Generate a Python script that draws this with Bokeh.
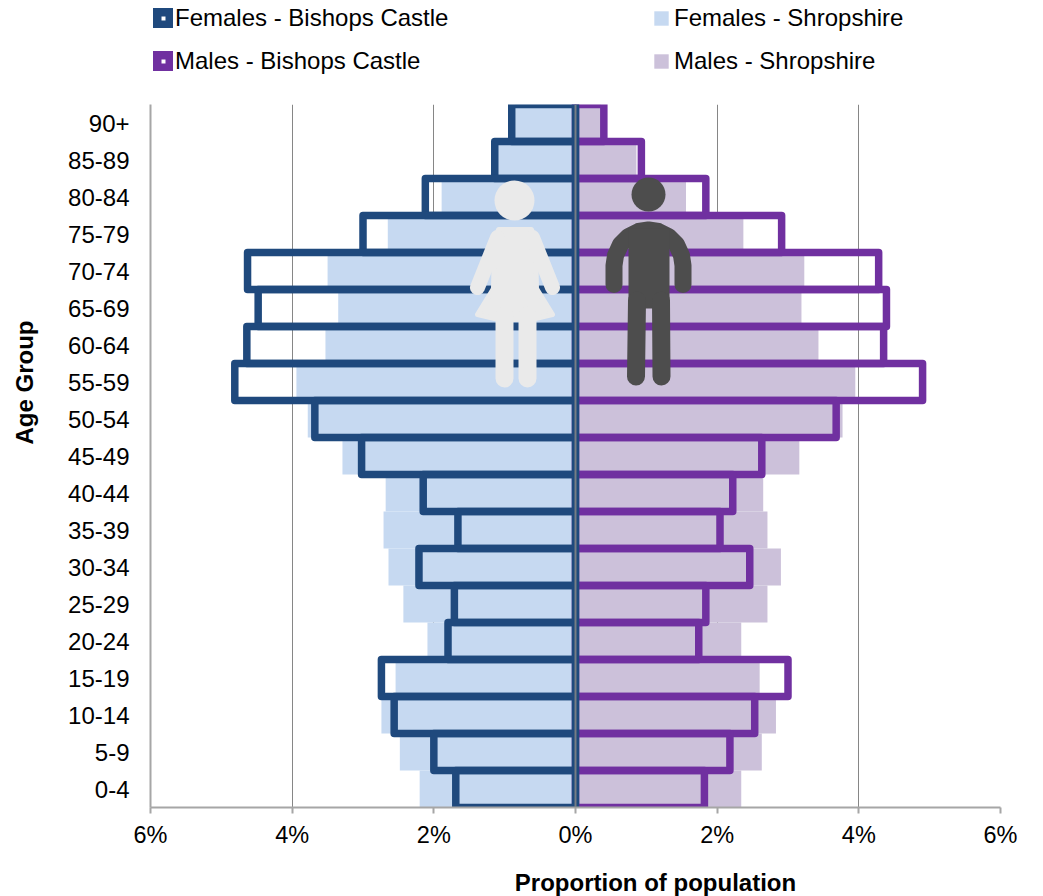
from bokeh.embed import file_html
from bokeh.resources import INLINE
from bokeh.layouts import column
from bokeh.plotting import figure
from bokeh.models import (ColumnDataSource, Range1d, Legend, LegendItem, Title, Label, Span, LinearAxis,
                          FixedTicker, CustomJSTickFormatter)

ages = ["90+", "85-89", "80-84", "75-79", "70-74", "65-69", "60-64", "55-59", "50-54", "45-49",
        "40-44", "35-39", "30-34", "25-29", "20-24", "15-19", "10-14", "5-9", "0-4"]
females_bc = [0.90, 1.14, 2.12, 3.00, 4.63, 4.48, 4.64, 4.81, 3.68, 3.02,
              2.15, 1.66, 2.21, 1.71, 1.80, 2.74, 2.56, 2.00, 1.69]
males_bc = [0.40, 0.93, 1.84, 2.91, 4.28, 4.39, 4.35, 4.90, 3.68, 2.63,
            2.22, 2.04, 2.46, 1.84, 1.74, 3.00, 2.53, 2.18, 1.82]
females_sh = [0.85, 1.10, 1.89, 2.65, 3.50, 3.35, 3.53, 3.94, 3.78, 3.29,
              2.68, 2.71, 2.64, 2.43, 2.09, 2.54, 2.74, 2.48, 2.20]
males_sh = [0.36, 0.86, 1.56, 2.37, 3.23, 3.19, 3.43, 3.95, 3.77, 3.16,
            2.65, 2.71, 2.90, 2.71, 2.34, 2.60, 2.83, 2.63, 2.34]
x_ticks = [-6, -4, -2, 0, 2, 4, 6]

NAVY, PURPLE, LBLUE, LPURPLE = "#1F497D", "#7030A0", "#C6D9F1", "#CCC1DA"
GRID, AXIS = "#868686", "#A6A6A6"
FONT = "Liberation Sans"

n = len(ages)
rows = list(range(n))
src = ColumnDataSource(dict(
    row=rows,
    fb=[-v for v in females_bc], mb=males_bc,
    fs=[-v for v in females_sh], ms=males_sh,
))

p = figure(width=1043, height=761, output_backend="svg", toolbar_location=None,
           x_range=Range1d(-6, 6), y_range=Range1d(n - 0.5, -0.5),
           min_border_left=150, min_border_right=43, min_border_top=14, min_border_bottom=44,
           frame_width=850, frame_height=703, outline_line_color=None, background_fill_color="white")
# helper ranges in page pixels, for the decorations (icons)
p.extra_x_ranges["px"] = Range1d(150, 1000)
p.extra_y_ranges["px"] = Range1d(807, 104)

p.xgrid.ticker = FixedTicker(ticks=x_ticks)
p.xgrid.grid_line_color = GRID
p.xgrid.grid_line_width = 1
p.ygrid.visible = False

p.hbar(y="row", left=0, right="fs", height=1, source=src, fill_color=LBLUE, line_color=None)
p.hbar(y="row", left=0, right="ms", height=1, source=src, fill_color=LPURPLE, line_color=None)
p.hbar(y="row", left=0, right="mb", height=1, source=src, fill_color=None,
       line_color=PURPLE, line_width=7.5, line_join="round")
p.hbar(y="row", left=0, right="fb", height=1, source=src, fill_color=None,
       line_color=NAVY, line_width=7.5, line_join="round")

# Icons
ICON_F, ICON_M = "#EAEAEA", "#4D4D4D"
kw = dict(x_range_name="px", y_range_name="px")
p.circle(x=[514], y=[200], radius=20, radius_units="screen", fill_color=ICON_F, line_color=None, **kw)
p.patch(x=[498, 531, 535, 536, 552, 535, 514, 494, 477, 493, 494],
        y=[229, 229, 240, 288, 314, 318, 319, 318, 314, 288, 240],
        fill_color=ICON_F, line_color=ICON_F, line_width=5, line_join="round", **kw)
p.multi_line(xs=[[497, 477], [532, 552]], ys=[[237, 287], [237, 287]],
             line_color=ICON_F, line_width=15, line_cap="round", **kw)
p.multi_line(xs=[[504, 504], [527, 527]], ys=[[315, 378], [315, 378]],
             line_color=ICON_F, line_width=18, line_cap="round", **kw)

p.circle(x=[648], y=[194], radius=17, radius_units="screen", fill_color=ICON_M, line_color=None, **kw)
p.line(x=[613.5, 613.5, 615, 620, 628, 638, 648, 658, 668, 676, 681, 682.5, 682.5],
       y=[284, 265, 255, 244, 236, 231, 229.5, 231, 236, 244, 255, 265, 284],
       line_color=ICON_M, line_width=17, line_cap="round", line_join="round", **kw)
p.patch(x=[628, 669, 669, 628], y=[228, 228, 308, 308], fill_color=ICON_M, line_color=None, **kw)
p.multi_line(xs=[[636.5, 635.5], [660.5, 661]], ys=[[300, 376], [300, 376]],
             line_color=ICON_M, line_width=18, line_cap="round", **kw)

p.add_layout(Span(location=0, dimension="height", line_color=GRID, line_width=2, line_alpha=0.85, level="overlay"))

# Axes
p.xaxis.ticker = FixedTicker(ticks=x_ticks)
p.xaxis.formatter = CustomJSTickFormatter(code="return Math.abs(tick) + '%'")
p.xaxis.axis_line_color = AXIS
p.xaxis.axis_line_width = 2
p.xaxis.major_tick_line_color = AXIS
p.xaxis.major_tick_line_width = 2
p.xaxis.major_tick_out = 6
p.xaxis.major_tick_in = 0
p.xaxis.minor_tick_line_color = None
p.xaxis.major_label_text_font = FONT
p.xaxis.major_label_text_font_size = "23.5px"
p.xaxis.major_label_text_color = "#000000"
p.xaxis.major_label_standoff = 8

p.yaxis.ticker = FixedTicker(ticks=rows)
p.yaxis.major_label_overrides = dict(zip(rows, ages))
p.yaxis.axis_line_color = AXIS
p.yaxis.axis_line_width = 2
p.yaxis.major_tick_line_color = None
p.yaxis.minor_tick_line_color = None
p.yaxis.major_label_text_font = FONT
p.yaxis.major_label_text_font_size = "24px"
p.yaxis.major_label_text_color = "#000000"
p.yaxis.major_label_standoff = 15

# empty axis that only pushes the rotated title outward
p.add_layout(LinearAxis(ticker=FixedTicker(ticks=[]), major_tick_out=0, major_tick_in=0,
                        major_tick_line_color=None, minor_tick_line_color=None, axis_line_color=None,
                        axis_label=" ", axis_label_standoff=24, axis_label_text_font_size="1px"), "left")

title_kw = dict(text_font=FONT, text_font_size="24px", text_font_style="bold", text_color="#000000")
p.add_layout(Title(text="Age Group", align="left", offset=363, standoff=0, **title_kw), "left")

# Legend strip above the chart; its renderers are hidden, only their legend keys show
leg_src = ColumnDataSource(dict(row=[100], v=[0]))
leg = figure(width=1043, height=90, output_backend="svg", toolbar_location=None,
             x_range=Range1d(-6, 6), y_range=Range1d(0, 1), x_axis_location=None, y_axis_location=None,
             min_border_left=0, min_border_right=0, min_border_top=0, min_border_bottom=0,
             outline_line_color=None)
leg.xgrid.visible = False
leg.ygrid.visible = False
bar = dict(y="row", left=0, right="v", height=1, source=leg_src, visible=False)
s_f = leg.hbar(fill_color="white", line_color=NAVY, line_width=12, line_join="round", **bar)
s_m = leg.hbar(fill_color="white", line_color=PURPLE, line_width=12, line_join="round", **bar)
s_fs = leg.hbar(fill_color=LBLUE, line_color=None, **bar)
s_ms = leg.hbar(fill_color=LPURPLE, line_color=None, **bar)
leg_kw = dict(label_text_font=FONT, label_text_font_size="24px", label_text_color="#000000",
              background_fill_alpha=0, border_line_color=None, padding=0, margin=0,
              inactive_fill_alpha=0,
              orientation="vertical", label_height=22, label_text_baseline="middle")
leg.add_layout(Legend(items=[LegendItem(label="Females - Bishops Castle", renderers=[s_f]),
                             LegendItem(label="Males - Bishops Castle", renderers=[s_m])],
                      location=(3, 15), glyph_width=20, glyph_height=20, label_standoff=2, spacing=15, **leg_kw))
leg.add_layout(Legend(items=[LegendItem(label="Females - Shropshire", renderers=[s_fs]),
                             LegendItem(label="Males - Shropshire", renderers=[s_ms])],
                      location=(502, 15), glyph_width=18, glyph_height=18, label_standoff=4, spacing=15, **leg_kw))

# Strip below the chart for the x-axis title, which sits off-centre
foot = figure(width=1043, height=45, output_backend="svg", toolbar_location=None,
              x_range=Range1d(150, 1000), y_range=Range1d(896, 851), x_axis_location=None, y_axis_location=None,
              min_border_left=0, min_border_right=0, min_border_top=0, min_border_bottom=0,
              outline_line_color=None)
foot.xgrid.visible = False
foot.ygrid.visible = False
foot.add_layout(Label(x=655, y=882, text="Proportion of population", text_align="center",
                      text_baseline="middle", **title_kw))

page = column(leg, p, foot, spacing=0)
open("out.html", "w").write(file_html(page, INLINE))
